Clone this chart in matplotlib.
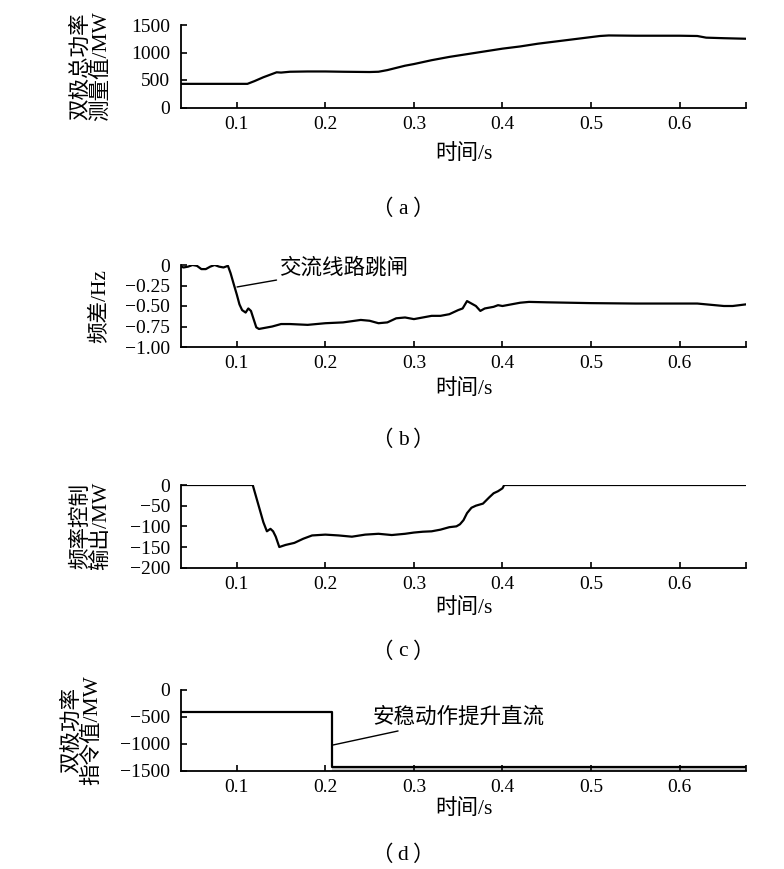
import matplotlib
matplotlib.use("Agg")
import matplotlib.pyplot as plt
import numpy as np

plt.rcParams['font.family'] = ['Liberation Serif', 'Noto Sans CJK SC']
plt.rcParams['axes.unicode_minus'] = True

XMIN, XMAX = 0.037, 0.675
xticks = [0.1, 0.2, 0.3, 0.4, 0.5, 0.6]
xtick_labels = ["0.1", "0.2", "0.3", "0.4", "0.5", "0.6"]

# (a) bipolar total power measured value
ta = [0.037, 0.112, 0.120, 0.130, 0.140, 0.145, 0.15, 0.16, 0.18, 0.20, 0.22, 0.25, 0.26,
      0.27, 0.28, 0.29, 0.30, 0.32, 0.34, 0.36, 0.38, 0.40, 0.42, 0.44, 0.46, 0.48, 0.50,
      0.51, 0.52, 0.55, 0.60, 0.62, 0.63, 0.65, 0.675]
pa = [430, 430, 480, 550, 610, 640, 635, 650, 655, 655, 650, 645, 650,
      680, 720, 760, 790, 860, 920, 970, 1020, 1070, 1110, 1160, 1200, 1240, 1280,
      1300, 1310, 1305, 1305, 1300, 1270, 1260, 1250]

# (b) frequency difference
tb = [0.037, 0.040, 0.045, 0.050, 0.055, 0.060, 0.065, 0.070, 0.075, 0.080, 0.085, 0.090,
      0.093, 0.097, 0.100, 0.103, 0.106, 0.110, 0.113, 0.116, 0.119, 0.122, 0.125, 0.130,
      0.140, 0.150, 0.160, 0.180, 0.200, 0.220, 0.240, 0.250, 0.260, 0.270, 0.280, 0.290,
      0.300, 0.310, 0.320, 0.330, 0.340, 0.350, 0.355, 0.360, 0.365, 0.370, 0.375, 0.380,
      0.390, 0.395, 0.400, 0.410, 0.420, 0.430, 0.450, 0.500, 0.550, 0.600, 0.620, 0.640,
      0.650, 0.660, 0.675]
fb = [-0.02, -0.03, -0.02, 0.00, -0.01, -0.05, -0.05, -0.02, 0.00, -0.02, -0.03, -0.01,
      -0.10, -0.25, -0.36, -0.48, -0.55, -0.58, -0.53, -0.56, -0.66, -0.76, -0.78, -0.77,
      -0.75, -0.72, -0.72, -0.73, -0.71, -0.70, -0.67, -0.68, -0.71, -0.70, -0.65, -0.64,
      -0.66, -0.64, -0.62, -0.62, -0.60, -0.55, -0.53, -0.44, -0.47, -0.50, -0.56, -0.53,
      -0.51, -0.49, -0.50, -0.48, -0.46, -0.45, -0.455, -0.465, -0.47, -0.47, -0.47, -0.49,
      -0.50, -0.50, -0.48]

# (c) frequency control output
tc = [0.037, 0.118, 0.122, 0.126, 0.130, 0.134, 0.138, 0.141, 0.144, 0.148, 0.155, 0.165,
      0.175, 0.185, 0.200, 0.215, 0.230, 0.245, 0.260, 0.275, 0.290, 0.300, 0.310, 0.320,
      0.330, 0.340, 0.348, 0.352, 0.356, 0.360, 0.365, 0.370, 0.378, 0.385, 0.390, 0.395,
      0.400, 0.402, 0.675]
pc = [0, 0, -30, -60, -90, -112, -106, -112, -125, -150, -145, -140,
      -130, -122, -120, -122, -125, -120, -118, -121, -118, -115, -113, -112,
      -108, -102, -100, -95, -85, -68, -55, -50, -45, -30, -20, -15,
      -8, 0, 0]

# (d) bipolar power order value
td = [0.037, 0.207, 0.207, 0.675]
pd_ = [-400, -400, -1440, -1440]

W, H = 784, 869
fig = plt.figure(figsize=(W / 100, H / 100), dpi=100)

left = 181 / W
width = (746 - 181) / W

def make_ax(top_px, bot_px):
    return fig.add_axes([left, 1 - bot_px / H, width, (bot_px - top_px) / H])

TICK_FS = 14
CJK_FS = 15.5

axes = [make_ax(25, 107.5), make_ax(265, 347), make_ax(485, 567.7), make_ax(690, 770.7)]

def style(ax, ylim, yticks, ylabels, ylabel, ylab_x, xlab_y):
    ax.set_xlim(XMIN, XMAX)
    ax.set_ylim(*ylim)
    ax.spines['top'].set_visible(False)
    ax.spines['right'].set_visible(False)
    ax.spines['left'].set_linewidth(1.3)
    ax.spines['bottom'].set_linewidth(1.3)
    ax.set_xticks(xticks + [XMAX])
    ax.set_xticklabels(xtick_labels + [""])
    ax.set_yticks(yticks)
    ax.set_yticklabels(ylabels)
    ax.tick_params(direction='in', length=4, width=1.2, labelsize=TICK_FS, pad=6)
    ax.tick_params(axis='y', pad=8)
    ax.set_xlabel("时间/s", fontsize=CJK_FS)
    ax.xaxis.set_label_coords(0.5, xlab_y)
    ax.set_ylabel(ylabel, fontsize=CJK_FS, linespacing=1.0)
    ax.yaxis.set_label_coords(ylab_x, 0.5)
    ax.patch.set_alpha(0)

LW = 1.6
ax = axes[0]
ax.plot(ta, pa, color='black', lw=LW)
style(ax, (0, 1500), [0, 500, 1000, 1500], ["0", "500", "1000", "1500"],
      "双极总功率\n测量值/MW", -0.124, -0.448)

ax = axes[1]
ax.plot(tb, fb, color='black', lw=LW)
style(ax, (-1.0, 0), [-1.0, -0.75, -0.5, -0.25, 0],
      ["\u22121.00", "\u22120.75", "\u22120.50", "\u22120.25", "0"], "频差/Hz", -0.126, -0.396)
ax.annotate("交流线路跳闸", xy=(0.1003, -0.268), xytext=(0.148, -0.04),
            fontsize=CJK_FS, va='center', ha='left',
            arrowprops=dict(arrowstyle='-', color='black', lw=1.0, shrinkA=0, shrinkB=0))

ax = axes[2]
ax.plot(tc, pc, color='black', lw=LW)
style(ax, (-200, 0), [-200, -150, -100, -50, 0],
      ["\u2212200", "\u2212150", "\u2212100", "\u221250", "0"], "频率控制\n输出/MW", -0.124, -0.372)

ax = axes[3]
ax.plot(td, pd_, color='black', lw=LW)
ax.fill_between(td[2:], [-1500, -1500], pd_[2:], color='#c8c8c8', lw=0)
style(ax, (-1500, 0), [-1500, -1000, -500, 0],
      ["\u22121500", "\u22121000", "\u2212500", "0"], "双极功率\n指令值/MW", -0.139, -0.357)
ax.annotate("安稳动作提升直流", xy=(0.2087, -1022), xytext=(0.253, -520),
            fontsize=CJK_FS, va='center', ha='left',
            arrowprops=dict(arrowstyle='-', color='black', lw=1.0, shrinkA=0, shrinkB=0))

for lab, ypx in zip(["a", "b", "c", "d"], [209, 440, 652, 855]):
    yy = 1 - ypx / H
    fig.text(403 / W, yy, lab, ha='center', va='center', fontsize=CJK_FS)
    fig.text(393 / W, yy, "（", ha='right', va='center', fontsize=CJK_FS,
             family=['Noto Sans CJK SC'])
    fig.text(413 / W, yy, "）", ha='left', va='center', fontsize=CJK_FS,
             family=['Noto Sans CJK SC'])

fig.savefig("out.png", dpi=100)
